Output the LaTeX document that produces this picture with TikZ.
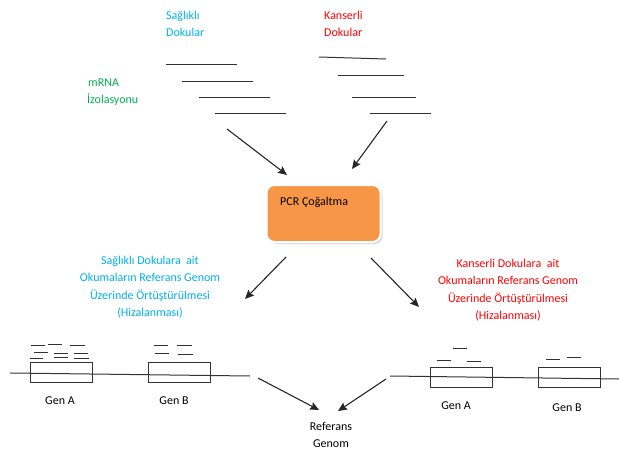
\documentclass[tikz,border=0pt]{standalone}
\usepackage{fontspec}
\setmainfont{Carlito}
\usetikzlibrary{arrows.meta,shadows}
\definecolor{hcyan}{HTML}{00B0F0}
\definecolor{kred}{HTML}{FF0000}
\definecolor{mgreen}{HTML}{00B050}
\definecolor{porange}{HTML}{F79646}

\begin{document}
\begin{tikzpicture}[
  x=1pt, y=-1pt,
  txt/.style={text=#1, font=\fontsize{12}{17.5}\selectfont, inner sep=0pt},
  pcrbox/.style={fill=porange, draw=white, line width=2pt, rounded corners=8pt,
                 minimum width=114pt, minimum height=57pt,
                 drop shadow={shadow xshift=2pt, shadow yshift=-2pt, fill=black!30}},
  ar/.style={-{Stealth[length=9pt,width=8pt,inset=1.5pt]}, line width=1.1pt, black!85},
  rd/.style={line width=1pt, black!80},
  gen/.style={draw=black!80, line width=0.9pt, minimum width=62pt, minimum height=20pt, inner sep=0pt},
]
\useasboundingbox (0,0) rectangle (619,450);

% Top labels
\node[txt=hcyan, align=left, anchor=west] (sag) at (166,24) {Sağlıklı\\Dokular};
\node[txt=kred, align=left, anchor=west] (kan) at (324,24) {Kanserli\\Dokular};
\node[txt=mgreen, align=left, anchor=west] (mrna) at (87,92) {\hspace{1pt}mRNA\\İzolasyonu};

% mRNA reads
\draw[rd] (166,64) -- (237,64);
\draw[rd] (182,81) -- (253,81);
\draw[rd] (199,97) -- (270,97);
\draw[rd] (215,113) -- (286,113);
\draw[rd] (319,57) -- (386,59);
\draw[rd] (338,75) -- (404,75);
\draw[rd] (352,97) -- (416,97);
\draw[rd] (370,113) -- (431,113);

% PCR
\node[pcrbox] (pcr) at (323.5,213.5) {};
\node[txt=black, anchor=west] (pcrtxt) at (280,202) {PCR Çoğaltma};

\coordinate (hs) at (227,129);
\coordinate (he) at (287,175);
\coordinate (ks) at (387,121);
\coordinate (ke) at (352,169);
\draw[ar] (hs) -- (he);
\draw[ar] (ks) -- (ke);

% Alignment captions
\node[txt=hcyan, align=center] (hal) at (150,287)
  {Sağlıklı Dokulara\ \ ait\\Okumaların Referans Genom\\Üzerinde Örtüştürülmesi\\(Hizalanması)};
\node[txt=kred, align=center] (kal) at (508,290)
  {Kanserli Dokulara\ \ ait\\Okumaların Referans Genom\\Üzerinde Örtüştürülmesi\\(Hizalanması)};

\coordinate (pl) at (286,257);
\coordinate (hl) at (245,299);
\coordinate (pr) at (371,258);
\coordinate (kr) at (419,307);
\draw[ar] (pl) -- (hl);
\draw[ar] (pr) -- (kr);

% Healthy genome
\coordinate (hg1) at (10,373);
\coordinate (hg2) at (250,376);
\draw[rd] (hg1) -- (hg2);
\node[gen] (hga) at (61,372) {};
\node[gen] (hgb) at (179,372) {};
\node[txt=black] (hgal) at (60,401) {Gen A};
\node[txt=black] (hgbl) at (174,401) {Gen B};
\draw[rd] (31,345) -- (45,345);  \draw[rd] (48,344) -- (62,344);  \draw[rd] (70,345) -- (85,345);
\draw[rd] (34,352) -- (48,352);  \draw[rd] (54,353) -- (68,353);  \draw[rd] (74,353) -- (88,353);
\draw[rd] (30,358) -- (43,358);  \draw[rd] (54,357) -- (68,357);  \draw[rd] (74,358) -- (89,358);
\draw[rd] (154,345) -- (168,345); \draw[rd] (177,345) -- (192,345);
\draw[rd] (155,353) -- (169,353); \draw[rd] (178,354) -- (193,354);

% Cancer genome
\coordinate (kg1) at (390,376);
\coordinate (kg2) at (619,379);
\draw[rd] (kg1) -- (kg2);
\node[gen] (kga) at (461,377) {};
\node[gen] (kgb) at (569,377) {};
\node[txt=black] (kgal) at (456,406) {Gen A};
\node[txt=black] (kgbl) at (567,408) {Gen B};
\draw[rd] (453,348) -- (467,348);
\draw[rd] (437,360) -- (451,360); \draw[rd] (467,361) -- (481,361);
\draw[rd] (546,359) -- (560,359); \draw[rd] (567,357) -- (581,357);

% Reference genome
\node[txt=black, align=center] (ref) at (331,435) {Referans\\Genom};
\coordinate (rl) at (258,378);
\coordinate (rle) at (319,410);
\coordinate (rr) at (386,379);
\coordinate (rre) at (338,411);
\draw[ar] (rl) -- (rle);
\draw[ar] (rr) -- (rre);
\end{tikzpicture}
\end{document}
